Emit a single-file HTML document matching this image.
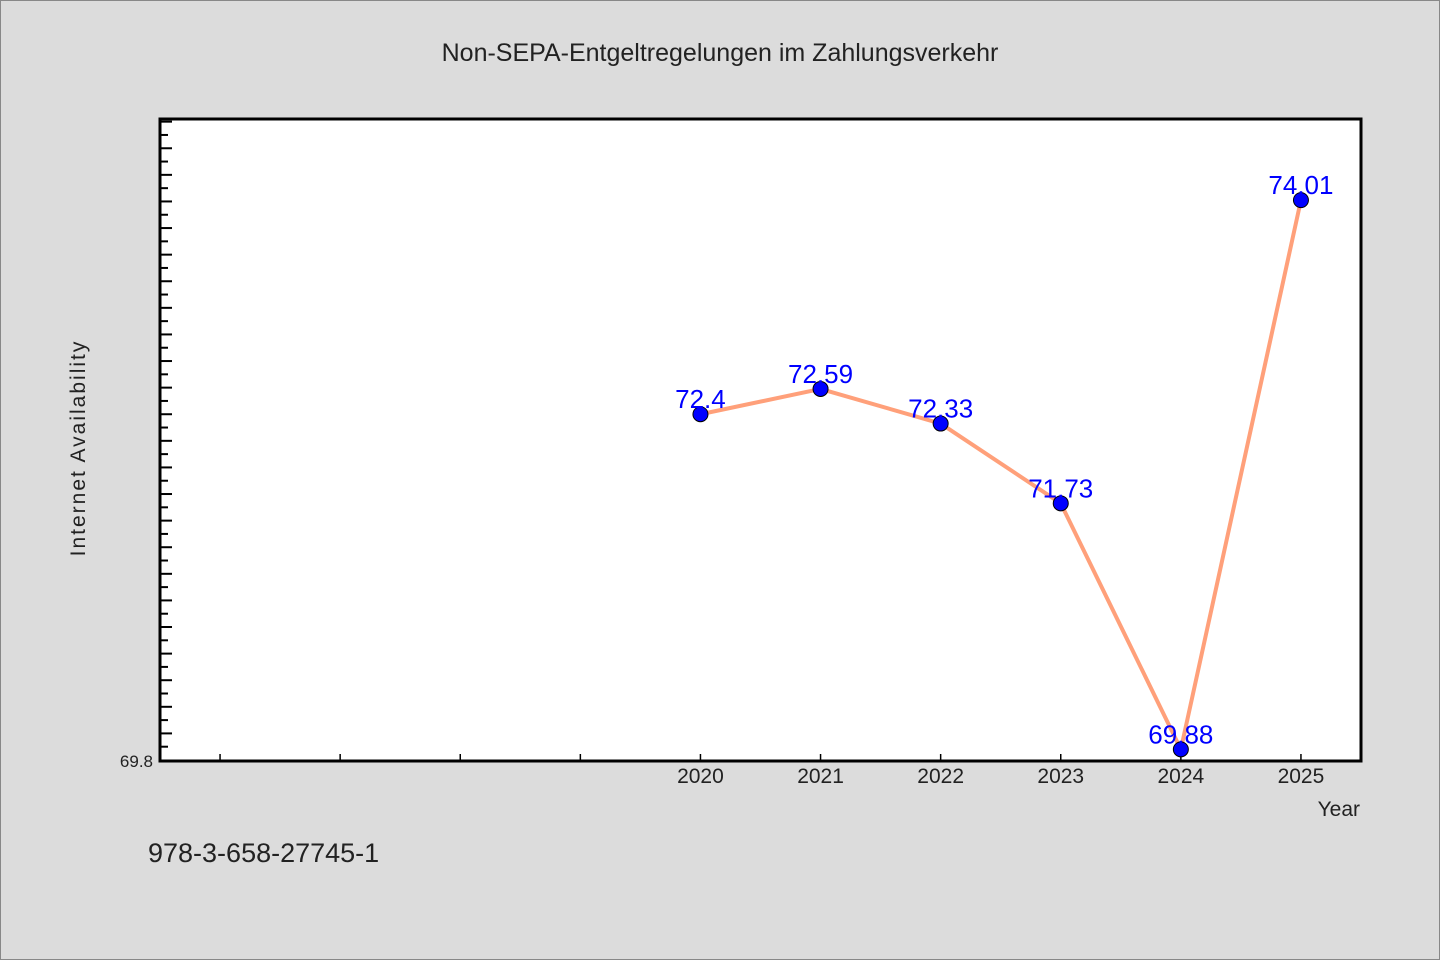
<!DOCTYPE html>
<html><head><meta charset="utf-8"><style>
html,body{margin:0;padding:0;background:#dcdcdc;}
svg{display:block;}
text{font-family:"WenQuanYi Zen Hei","Liberation Sans",sans-serif;}
</style></head><body>
<svg id="chart" width="1440" height="960">
<rect x="0.5" y="0.5" width="1439" height="959" fill="#dcdcdc" stroke="#888"/>
<text x="720" y="61" text-anchor="middle" font-size="25" fill="#222">Non-SEPA-Entgeltregelungen im Zahlungsverkehr</text>
<rect x="160" y="119" width="1201" height="642" fill="#fff"/>
<g id="axes"></g>
<g id="marks"></g>
<rect x="160" y="119" width="1201" height="642" fill="none" stroke="#000" stroke-width="3"/>
<text x="85" y="448" transform="rotate(-90 85 448)" text-anchor="middle" font-size="21" fill="#222" letter-spacing="2">Internet Availability</text>
<text x="1360" y="816" text-anchor="end" font-size="21" fill="#222">Year</text>
<text x="148" y="862" font-size="27" fill="#222">978-3-658-27745-1</text>
</svg>
<script>
const years = [2020, 2021, 2022, 2023, 2024, 2025];
const values = [72.4, 72.59, 72.33, 71.73, 69.88, 74.01];
const valueLabels = ["72.4", "72.59", "72.33", "71.73", "69.88", "74.01"];
const minorYears = [2016, 2017, 2018, 2019];
const yMinLabel = "69.8";

const NS = "http://www.w3.org/2000/svg";
const X0 = 160, X1 = 1361, Y0 = 119, Y1 = 760;
const xMin = 2015.5, xMax = 2025.5, yMin = 69.8, yMax = 74.62;
function xs(v){ return X0 + (v - xMin) / (xMax - xMin) * (X1 - X0); }
function ys(v){ return Y1 - (v - yMin) / (yMax - yMin) * (Y1 - Y0); }
function mk(tag, attrs, parent){
  const e = document.createElementNS(NS, tag);
  for (const k in attrs) e.setAttribute(k, attrs[k]);
  parent.appendChild(e); return e;
}
const axes = document.getElementById('axes');
const marks = document.getElementById('marks');

// y minor ticks every 0.1
for (let i = 1; yMin + i * 0.1 < yMax; i++) {
  const v = yMin + i * 0.1, y = ys(v);
  const len = (i % 2 === 0) ? 12 : 8;
  const t = mk('line', {x1: X0, x2: X0 + len, y1: y, y2: y, stroke: '#000', 'stroke-width': 2}, axes);
  
  
}
const yl = mk('text', {x: 153, y: 767, 'text-anchor': 'end', 'font-size': 17, fill: '#222'}, axes);
yl.textContent = yMinLabel;



minorYears.concat(years).forEach(yr => {
  const x = xs(yr);
  const t = mk('line', {x1: x, x2: x, y1: Y1, y2: Y1 - 6, stroke: '#000', 'stroke-width': 1.5}, axes);
  
  
});
years.forEach(yr => {
  const t = mk('text', {x: xs(yr), y: 783, 'text-anchor': 'middle', 'font-size': 21, fill: '#222'}, axes);
  t.textContent = String(yr);
  
  
});

const pts = years.map((yr, i) => xs(yr) + ',' + ys(values[i])).join(' ');
const line = mk('polyline', {points: pts, fill: 'none', stroke: '#ffa07a', 'stroke-width': 4, 'stroke-linejoin': 'round'}, marks);


years.forEach((yr, i) => {
  const c = mk('circle', {cx: xs(yr), cy: ys(values[i]), r: 7.5, fill: '#0000ff', stroke: '#000', 'stroke-width': 1}, marks);
  
  
  const t = mk('text', {x: xs(yr), y: ys(values[i]) - 6, 'text-anchor': 'middle', 'font-size': 26, fill: '#0000ff', 'font-family': 'Liberation Sans, sans-serif'}, marks);
  t.textContent = valueLabels[i];
  
  
});
</script>
</body></html>
